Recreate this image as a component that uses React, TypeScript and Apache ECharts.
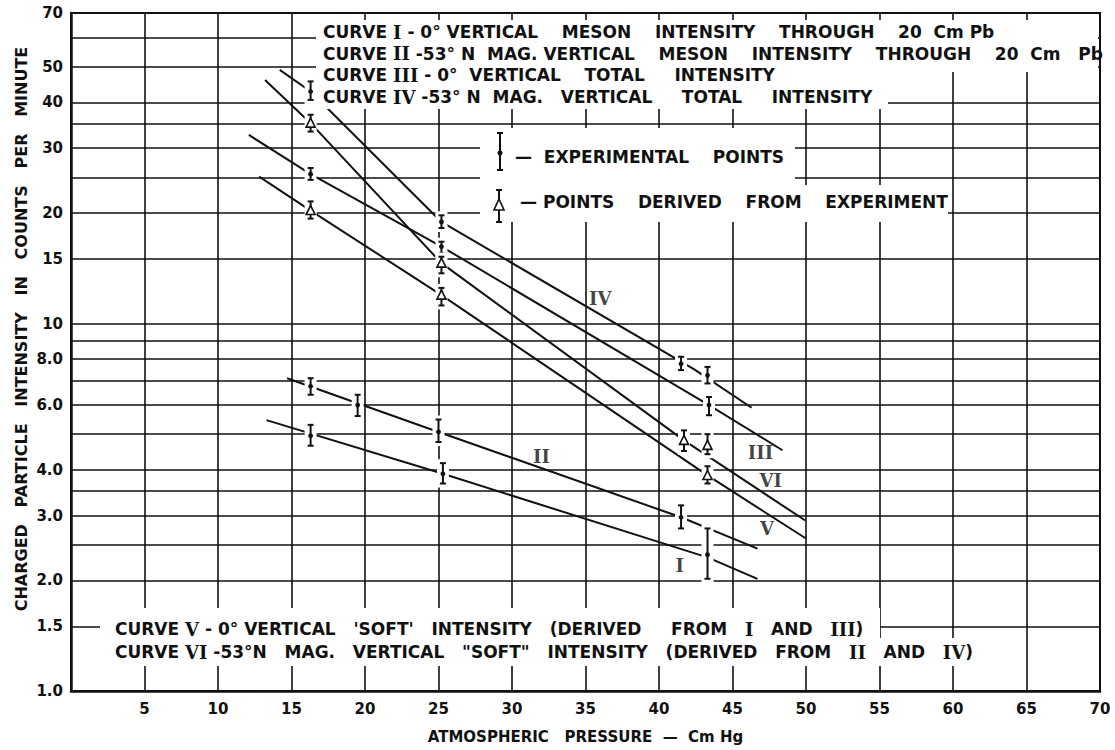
import React, { useEffect, useRef } from "react";
import * as echarts from "echarts";

// ---- axis definitions ----
const xMin = 0;
const xMax = 70;
const xInterval = 5;
const yMin = 1;
const yMax = 70;
const yGridValues = [1, 1.5, 2, 2.5, 3, 3.5, 4, 5, 6, 7, 8, 9, 10, 15, 20, 25, 30, 35, 40, 50, 60, 70];
const yLabelValues = [1, 1.5, 2, 3, 4, 6, 8, 10, 15, 20, 30, 40, 50, 70];

// ---- curves: [pressure (cm Hg), intensity (counts/min)] ----
const curveI = [[13.3, 5.46], [25.3, 3.9], [43.3, 2.31], [46.7, 2.02]];
const curveII = [[14.7, 7.1], [25.0, 5.07], [41.5, 2.97], [46.7, 2.44]];
const curveIII = [[12.1, 32.6], [16.3, 25.5], [25.2, 16.2], [43.4, 6.0], [48.4, 4.52]];
const curveIV = [[14.2, 49.0], [16.3, 42.8], [25.2, 18.9], [42.4, 7.5], [46.3, 5.9]];
const curveV = [[12.8, 25.1], [16.3, 20.3], [25.2, 11.95], [43.3, 3.86], [50.0, 2.6]];
const curveVI = [[13.2, 46.0], [16.3, 35.1], [25.2, 14.6], [41.7, 4.81], [49.95, 2.91]];

// ---- points: [pressure, value, low, high] ----
const experimentalPoints = [
  [16.3, 42.8, 40.6, 45.6],
  [25.2, 18.9, 18.2, 19.7],
  [41.5, 7.77, 7.47, 8.12],
  [43.3, 7.23, 6.87, 7.62],
  [16.3, 25.5, 24.6, 26.5],
  [25.2, 16.2, 15.5, 16.7],
  [43.4, 6.0, 5.63, 6.31],
  [16.3, 6.75, 6.4, 7.1],
  [19.5, 6.0, 5.6, 6.4],
  [25.0, 5.07, 4.76, 5.48],
  [41.5, 2.97, 2.77, 3.2],
  [16.3, 4.95, 4.65, 5.3],
  [25.3, 3.9, 3.67, 4.17],
  [43.3, 2.35, 2.02, 2.77],
];
const derivedPoints = [
  [16.3, 35.1, 33.3, 37.0],
  [25.2, 14.6, 13.7, 15.2],
  [41.7, 4.81, 4.5, 5.12],
  [43.3, 4.66, 4.41, 5.0],
  [16.3, 20.3, 19.3, 21.5],
  [25.2, 11.95, 11.2, 12.5],
  [43.3, 3.86, 3.67, 4.09],
];

// ---- curve labels ----
const curveLabelNames = ["IV", "III", "VI", "V", "II", "I"];
const curveLabelPos = [[36.0, 11.7], [46.9, 4.47], [47.6, 3.74], [47.35, 2.77], [32.0, 4.35], [41.4, 2.2]];

// ---- texts ----
const topLegendLines = [
  "CURVE {r|I} - 0° VERTICAL    MESON    INTENSITY    THROUGH    20  Cm Pb",
  "CURVE {r|II} -53° N  MAG. VERTICAL    MESON    INTENSITY    THROUGH    20  Cm   Pb",
  "CURVE {r|III} - 0°  VERTICAL    TOTAL     INTENSITY",
  "CURVE {r|IV} -53° N  MAG.   VERTICAL     TOTAL     INTENSITY",
];
const bottomLegendLines = [
  "CURVE {r|V} - 0° VERTICAL   'SOFT'   INTENSITY   (DERIVED     FROM   {r|I}   AND   {r|III})",
  "CURVE {r|VI} -53°N   MAG.   VERTICAL   \"SOFT\"   INTENSITY   (DERIVED   FROM   {r|II}   AND   {r|IV})",
];
const pointLegendLines = ["—  EXPERIMENTAL    POINTS", "— POINTS    DERIVED    FROM    EXPERIMENT"];
const yTitle = "CHARGED   PARTICLE   INTENSITY   IN   COUNTS   PER   MINUTE";
const xTitle = "ATMOSPHERIC   PRESSURE  —  Cm Hg";

const INK = "#111111";
const FONT = "DejaVu Sans";
const TXT = 17;

function markerRenderer(kind: "dot" | "tri") {
  return (params: any, api: any) => {
    const x = api.value(0);
    const v = api.value(1);
    const lo = api.value(2);
    const hi = api.value(3);
    const c = api.coord([x, v]);
    const pLo = api.coord([x, lo]);
    const pHi = api.coord([x, hi]);
    const children: any[] = [
      {
        type: "rect",
        shape: { x: c[0] - 6, y: pHi[1] - 4, width: 12, height: pLo[1] - pHi[1] + 8 },
        style: { fill: "#fff" },
      },
      { type: "line", shape: { x1: c[0], y1: pHi[1], x2: c[0], y2: pLo[1] }, style: { stroke: INK, lineWidth: 2 } },
      { type: "line", shape: { x1: c[0] - 3, y1: pHi[1], x2: c[0] + 3, y2: pHi[1] }, style: { stroke: INK, lineWidth: 2 } },
      { type: "line", shape: { x1: c[0] - 3, y1: pLo[1], x2: c[0] + 3, y2: pLo[1] }, style: { stroke: INK, lineWidth: 2 } },
    ];
    if (kind === "dot") {
      children.push({ type: "circle", shape: { cx: c[0], cy: c[1], r: 2.4 }, style: { fill: INK } });
    } else {
      children.push({
        type: "polygon",
        shape: { points: [[c[0] - 4.5, c[1] + 4], [c[0] + 4.5, c[1] + 4], [c[0], c[1] - 5]] },
        style: { fill: "#fff", stroke: INK, lineWidth: 1.6 },
      });
    }
    return { type: "group", children };
  };
}

const richR = { fontFamily: "DejaVu Serif", fontWeight: "bold", fontSize: TXT + 1, fill: INK, color: INK };

function textEl(text: string, x: number, y: number, size = TXT) {
  return {
    type: "text",
    x,
    y,
    z: 101,
    style: {
      text,
      fill: INK,
      fontFamily: FONT,
      fontWeight: "bold",
      fontSize: size,
      verticalAlign: "middle",
      align: "left",
      rich: { r: richR },
    },
  };
}

function whiteRect(x: number, y: number, w: number, h: number) {
  return { type: "rect", z: 100, shape: { x, y, width: w, height: h }, style: { fill: "#fff" } };
}

export default function App() {
  const ref = useRef<HTMLDivElement>(null);
  useEffect(() => {
    document.body.style.margin = "0";
    if (!ref.current) return;
    const chart = echarts.init(ref.current, undefined, { renderer: "svg" });
    const lineSeries = [curveI, curveII, curveIII, curveIV, curveV, curveVI].map((d, i) => ({
      type: "line",
      name: "curve" + i,
      data: d,
      symbol: "none",
      silent: true,
      z: 3,
      lineStyle: { color: INK, width: 2 },
    }));
    const graphic: any[] = [
      // top legend backdrop
      whiteRect(316, 20, 782, 52),
      whiteRect(316, 72, 572, 37),
      // point legend backdrop
      whiteRect(480, 128, 315, 57),
      whiteRect(480, 185, 468, 37),
      // bottom legend backdrop
      whiteRect(100, 608, 780, 30),
      whiteRect(100, 638, 888, 28),
      ...topLegendLines.map((t, i) => textEl(t, 323, 32 + i * 21.7)),
      ...bottomLegendLines.map((t, i) => textEl(t, 115, 629 + i * 23)),
      textEl(pointLegendLines[0], 515, 157),
      textEl(pointLegendLines[1], 520, 202),
      // legend symbols
      {
        type: "group",
        z: 101,
        children: [
          { type: "line", z: 101, shape: { x1: 500, y1: 133, x2: 500, y2: 170 }, style: { stroke: INK, lineWidth: 2 } },
          { type: "line", z: 101, shape: { x1: 497, y1: 133, x2: 503, y2: 133 }, style: { stroke: INK, lineWidth: 2 } },
          { type: "line", z: 101, shape: { x1: 497, y1: 170, x2: 503, y2: 170 }, style: { stroke: INK, lineWidth: 2 } },
          { type: "circle", z: 101, shape: { cx: 500, cy: 153, r: 2.6 }, style: { fill: INK } },
          { type: "line", z: 101, shape: { x1: 499, y1: 190, x2: 499, y2: 222 }, style: { stroke: INK, lineWidth: 2 } },
          { type: "line", z: 101, shape: { x1: 496, y1: 190, x2: 502, y2: 190 }, style: { stroke: INK, lineWidth: 2 } },
          { type: "line", z: 101, shape: { x1: 496, y1: 222, x2: 502, y2: 222 }, style: { stroke: INK, lineWidth: 2 } },
          {
            type: "polygon",
            z: 102,
            shape: { points: [[494, 210], [504, 210], [499, 199]] },
            style: { fill: "#fff", stroke: INK, lineWidth: 1.6 },
          },
        ],
      },
      {
        type: "text",
        z: 101,
        x: 21,
        y: 329,
        rotation: Math.PI / 2,
        style: {
          text: yTitle,
          fill: INK,
          fontFamily: FONT,
          fontWeight: "bold",
          fontSize: 16,
          align: "center",
          verticalAlign: "middle",
        },
      },
    ];

    chart.setOption({
      animation: false,
      backgroundColor: "#fff",
      grid: { left: 71, right: 15, top: 13, bottom: 59, show: true, borderColor: INK, borderWidth: 2, backgroundColor: "transparent" },
      xAxis: {
        type: "value",
        min: xMin,
        max: xMax,
        interval: xInterval,
        axisLine: { show: true, onZero: false, lineStyle: { color: INK, width: 2.5 } },
        axisTick: { show: false },
        axisLabel: {
          formatter: (v: number) => (v === 0 ? "" : String(v)),
          color: INK,
          fontFamily: FONT,
          fontWeight: "bold",
          fontSize: 15,
          margin: 10,
        },
        splitLine: { show: true, lineStyle: { color: INK, width: 1.6 } },
        name: xTitle,
        nameLocation: "middle",
        nameGap: 38,
        nameTextStyle: { color: INK, fontFamily: FONT, fontWeight: "bold", fontSize: 15 },
      },
      yAxis: {
        type: "log",
        logBase: 10,
        min: yMin,
        max: yMax,
        axisLine: { show: true, onZero: false, lineStyle: { color: INK, width: 2.5 } },
        axisTick: { show: false, customValues: yGridValues },
        axisLabel: {
          customValues: yLabelValues,
          formatter: (v: number) => (v >= 10 ? String(Math.round(v)) : v.toFixed(1)),
          color: INK,
          fontFamily: FONT,
          fontWeight: "bold",
          fontSize: 15,
          margin: 8,
        },
        splitLine: { show: true, lineStyle: { color: INK, width: 1.6 } },
      },
      graphic,
      series: [
        ...lineSeries,
        {
          type: "custom",
          name: "experimental",
          data: experimentalPoints,
          encode: { x: 0, y: 1 },
          z: 5,
          silent: true,
          renderItem: markerRenderer("dot"),
        },
        {
          type: "custom",
          name: "derived",
          data: derivedPoints,
          encode: { x: 0, y: 1 },
          z: 5,
          silent: true,
          renderItem: markerRenderer("tri"),
        },
        {
          type: "scatter",
          name: "labels",
          data: curveLabelNames.map((n, i) => ({ name: n, value: curveLabelPos[i] })),
          symbolSize: 1,
          itemStyle: { color: "transparent" },
          silent: true,
          z: 6,
          label: {
            show: true,
            position: "inside",
            formatter: "{b}",
            color: INK,
            textBorderWidth: 0,
            fontFamily: "DejaVu Serif",
            fontWeight: "bold",
            fontSize: 18,
          },
        },
      ],
    });
    return () => chart.dispose();
  }, []);
  return <div ref={ref} style={{ width: 1115, height: 750 }} />;
}
